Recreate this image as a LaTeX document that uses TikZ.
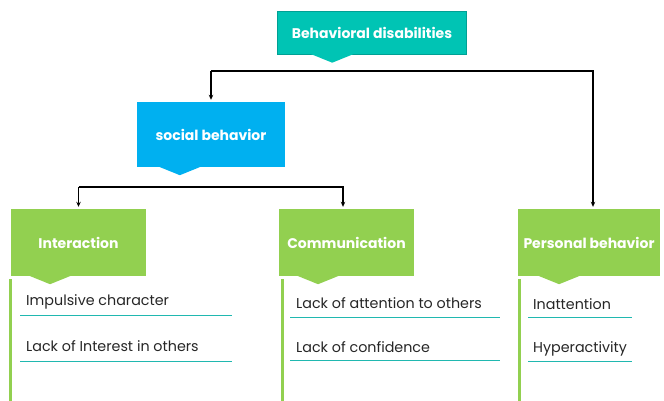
\documentclass[tikz,border=0pt]{standalone}
\usepackage{fontspec}
\setmainfont{Poppins}
\usetikzlibrary{arrows.meta,calc}

\definecolor{headteal}{RGB}{0,196,180}
\definecolor{headedge}{RGB}{0,160,148}
\definecolor{socblue}{RGB}{0,176,240}
\definecolor{leafgreen}{RGB}{146,208,80}
\definecolor{linecyan}{RGB}{32,184,176}
\definecolor{itemgray}{RGB}{38,38,38}

% small pointer under a heading box
\newcommand{\boxtip}[2]{\fill[#2] ($(#1.south west)!0.29!(#1.south east)$) +(-21,-0.5) -- +(0,8) -- +(21,-0.5) -- cycle;}

\begin{document}
\begin{tikzpicture}[x=1pt,y=-1pt,
    head/.style={rectangle,inner sep=0pt,text=white,font=\bfseries\fontsize{14}{16}\selectfont},
    leaf/.style={head,fill=leafgreen,minimum width=135,minimum height=67},
    item/.style={anchor=west,inner sep=0pt,text=itemgray,font=\fontsize{14.3}{16}\selectfont},
    uline/.style={linecyan,line width=0.9pt},
    bar/.style={leafgreen,line width=3pt},
    link/.style={black,line width=1.3pt,-{Stealth[length=5pt,width=4.5pt]},shorten >=2pt}]
    \useasboundingbox (0,0) rectangle (664,401);

    \node[head,fill=headteal,draw=headedge,minimum width=189,minimum height=43] (top) at (372,33) {Behavioral disabilities};
    \node[head,fill=socblue,minimum width=148,minimum height=65] (social) at (211,134.5) {social behavior};
    \node[leaf] (inter) at (78.5,242.5) {Interaction};
    \node[leaf] (comm) at (346.5,242.5) {Communication};
    \node[leaf,minimum width=142] (pers) at (589,242.5) {Personal behavior};

    \boxtip{top}{headteal}
    \boxtip{social}{socblue}
    \boxtip{inter}{leafgreen}
    \boxtip{comm}{leafgreen}
    \boxtip{pers}{leafgreen}

    % connectors
    \coordinate (busA) at (0,71);
    \coordinate (busB) at (0,187);
    \draw[link] (social.north |- busA) -- (social.north);
    \draw[link] (social.north |- busA) -| ([xshift=4]pers.north);
    \draw[link] (inter.north |- busB) -- (inter.north);
    \draw[link] (inter.north |- busB) -| ([xshift=-3.5]comm.north);

    % side bars
    \draw[bar] (10.5,279) -- (10.5,401);
    \draw[bar] (282.5,279) -- (282.5,401);
    \draw[bar] (519.5,279) -- (519.5,401);

    % items
    \node[item] (i1) at (26,302) {Impulsive character};
    \node[item] (i2) at (26,346) {Lack of Interest in others};
    \node[item] (c1) at (296,303) {Lack of attention to others};
    \node[item] (c2) at (296,347) {Lack of confidence};
    \node[item] (p1) at (533,304) {Inattention};
    \node[item] (p2) at (533,349) {Hyperactivity};

    \draw[uline] (20,315) -- (232,315);
    \draw[uline] (20,361) -- (232,361);
    \draw[uline] (290,317) -- (500,317);
    \draw[uline] (290,360) -- (500,360);
    \draw[uline] (528,317) -- (632,317);
    \draw[uline] (528,361) -- (632,361);
\end{tikzpicture}
\end{document}
